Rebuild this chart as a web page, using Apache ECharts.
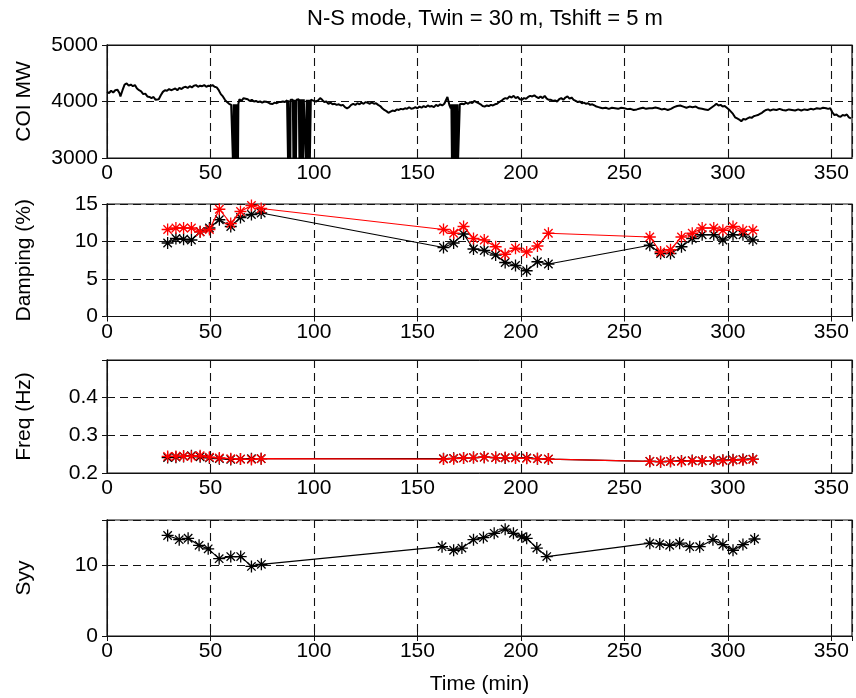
<!DOCTYPE html>
<html>
<head>
<meta charset="utf-8">
<script src="https://cdn.jsdelivr.net/npm/echarts@6/dist/echarts.min.js"></script>
<style>
html,body{margin:0;padding:0;background:#fff;}
#chart{width:856px;height:698px;}
</style>
</head>
<body>
<div id="chart"></div>
<script>
// ---------- DATA ----------
const titleText = 'N-S mode, Twin = 30 m, Tshift = 5 m';
const xTicks = [0, 50, 100, 150, 200, 250, 300, 350];

// COI MW (top panel): time (min) and MW
const coiT = [0,1,2,3,4,5,6,6.5,7.5,8.5,9.5,10.5,11.5,12.5,13.5,14.5,15.5,16.5,17.5,18.5,19.5,20.5,21.5,22.5,23.5,24,25,26,27,28,29,30,31,32,33,34,35,36,37,38,39,40,41,42,43,44,45,46,47,48,49,50,51,52,53,54,55,56,57,58,59,60,60.5,
60.6,60.9,61.2,61.5,61.8,62.1,62.4,62.7,63.0,63.3,63.5,
64,65,66,67,68,69,70,71,72,73,74,75,76,77,78,79,80,81,82,83,84,85,86,87,
87.4,87.5,87.6,88.5,88.6,88.7,89.8,90.1,90.4,90.7,91.0,91.3,91.6,92.7,93.0,93.3,93.6,93.9,94.2,94.5,94.8,95.1,95.3,95.9,96.2,96.5,96.8,97.1,97.4,97.7,98.0,
98.5,99,100,101,102,102.5,103,104,105,106,107,108,109,110,111,112,113,114,115,116,117,118,119,120,121,122,123,124,125,126,127,128,129,130,131,132,133,134,135,136,137,138,139,140,141,142,143,144,145,146,147,148,149,150,151,152,153,154,155,156,157,158,159,160,161,162,163,163.8,164.5,165.5,
166.1,166.4,166.7,167.0,167.3,167.6,167.9,168.2,168.5,168.8,169.1,169.4,169.6,
170.5,171.5,172.5,173.5,174.5,175.5,176.5,177.5,178.5,179.5,180.5,181.5,182.5,183.5,184.5,185.5,186.5,187.5,188.5,189.5,190.5,191.5,192.5,193.5,194.5,195.5,196.5,197.5,198.5,199.5,200.5,201.5,202.5,203.5,204.5,205.5,206.5,207.5,208.5,209.5,210.5,211.5,212.5,213.5,214.5,215.5,216.5,217.5,218.5,219.5,220.5,221.5,222.5,223.5,224.5,225.5,226.5,227.5,228.5,229.5,230.5,231.5,232.5,233.5,234.5,235.5,236.5,237.5,238.5,239.5,
241,242.5,244,245.5,247,248.5,250,251.5,253,254.5,256,257.5,259,260.5,262,263.5,265,266.5,268,269.5,271,272.5,274,275.5,277,278.5,280,281.5,283,284.5,286,287.5,289,290.5,292,293.5,294.5,295.5,296.5,297.5,298.5,299.5,300.5,301.5,302.5,303.5,304.5,305.5,306.5,307.5,308.5,309.5,310.5,311.5,312.5,313.5,314.5,315.5,316.5,317.5,318.5,319.5,320.5,322,323.5,325,326.5,328,329.5,331,332.5,334,335.5,337,338.5,340,341.5,343,344.5,346,347.5,348.5,349.5,350.5,351.5,352.5,353.5,354.5,355.5,356.5,357.5,358.5,359.5];
const coiMW = [4170,4150,4190,4160,4200,4210,4150,4090,4200,4300,4320,4280,4300,4270,4290,4230,4200,4180,4130,4140,4090,4080,4060,4080,4030,4060,4040,4110,4170,4200,4190,4220,4200,4215,4230,4200,4240,4220,4250,4260,4240,4270,4250,4280,4290,4260,4280,4270,4290,4260,4280,4275,4290,4260,4250,4200,4130,4090,4030,3990,3960,3940,3930,
3950,2900,3950,2900,3950,2900,3950,2900,3950,2900,3960,
4040,4010,4060,4050,4040,4010,4030,4000,4010,3990,4000,3980,4000,3995,3980,3960,3955,3980,3970,3990,3990,4000,3990,4020,
4020,2900,4020,4030,2900,4030,4030,2900,4030,2900,4030,2900,4030,4040,2900,4040,2900,4040,2900,4040,2900,4040,4030,4030,2900,4030,2900,4030,2900,4030,2900,4030,
4030,4010,4000,4020,4040,4060,4030,3990,4000,3960,3980,3950,3960,3940,3950,3930,3940,3900,3880,3900,3940,3960,3940,3970,3950,3980,3960,3990,3975,3960,3985,3960,3970,3940,3920,3880,3850,3830,3800,3820,3840,3830,3860,3850,3870,3860,3880,3870,3900,3870,3880,3900,3880,3910,3890,3920,3900,3930,3910,3920,3900,3940,3920,3950,3930,3960,3950,4080,3930,3880,
3950,2900,3950,2900,3950,2900,3950,2900,3950,2900,3950,2900,3950,
3960,3950,3980,3960,3990,3970,4010,3990,3970,3950,3920,3910,3930,3920,3940,3930,3950,3960,3990,4010,4040,4060,4050,4090,4070,4100,4060,4080,4040,4030,4060,4050,4080,4100,4090,4110,4080,4060,4090,4060,4100,4050,4030,4030,4010,4020,4000,4040,4060,4030,4070,4090,4050,4070,4030,4010,3990,4000,3970,3980,3960,3970,3940,3950,3930,3910,3900,3890,3880,3890,
3870,3890,3880,3870,3890,3880,3865,3870,3850,3860,3875,3890,3870,3880,3880,3895,3880,3860,3870,3850,3870,3900,3920,3930,3910,3890,3910,3900,3910,3880,3870,3860,3850,3890,3930,3960,3930,3940,3910,3920,3890,3860,3820,3780,3720,3700,3680,3650,3690,3680,3700,3720,3710,3740,3750,3760,3780,3800,3830,3850,3860,3840,3860,3850,3870,3850,3840,3860,3850,3840,3860,3840,3860,3850,3870,3860,3880,3870,3890,3880,3870,3880,3810,3760,3770,3740,3730,3760,3750,3770,3720,3700,3680];

// Damping (%) : estimation times and values
const dampT = [29.3,33.3,37.0,40.8,45.0,49.5,54.3,59.8,64.5,69.8,74.5,
  162.6,167.5,172.3,177.1,182.3,187.8,192.4,197.4,202.8,208.0,213.3,
  262.3,267.5,272.3,277.6,282.8,287.6,293.2,297.6,302.5,307.3,312.1];
const dampBlack = [9.8,10.4,10.3,10.2,11.3,11.8,12.9,12.0,13.2,13.6,13.8,
  9.2,9.8,11.0,9.0,8.8,8.2,7.2,6.8,6.1,7.3,7.0,
  9.5,8.4,8.4,9.3,10.4,10.9,10.9,10.2,10.9,10.9,10.2];
const dampRed = [11.6,11.8,11.8,11.8,11.3,11.6,14.3,12.4,14.0,14.8,14.4,
  11.6,11.1,12.0,10.4,10.2,9.3,8.3,9.1,8.6,9.4,11.1,
  10.6,8.6,8.9,10.6,11.1,11.8,11.8,11.5,12.0,11.5,11.5];

// Freq (Hz)
const freqBlack = [0.241,0.242,0.244,0.246,0.243,0.240,0.238,0.236,0.237,0.238,0.238,
  0.238,0.239,0.240,0.241,0.242,0.241,0.240,0.241,0.240,0.238,0.237,
  0.231,0.230,0.231,0.232,0.233,0.232,0.233,0.234,0.235,0.236,0.237];
const freqRed = [0.244,0.244,0.245,0.244,0.246,0.242,0.240,0.238,0.237,0.236,0.238,
  0.237,0.238,0.240,0.241,0.242,0.241,0.241,0.240,0.239,0.238,0.237,
  0.231,0.230,0.231,0.231,0.232,0.232,0.233,0.233,0.234,0.235,0.236];

// Syy
const syyT = [29.3,34.9,39.2,44.5,48.9,54.2,59.8,64.6,69.8,74.6,
  161.9,167.5,171.5,177.1,181.9,187.1,192.4,196.4,200.4,202.8,207.7,212.5,
  262.3,267.1,271.9,276.7,281.6,286.4,292.8,297.6,302.5,307.3,312.9];
const syyV = [14.3,13.7,13.9,12.9,12.4,11.0,11.3,11.3,9.9,10.2,
  12.7,12.2,12.5,13.7,14.0,14.6,15.2,14.6,14.1,13.9,12.5,11.3,
  13.2,13.1,12.9,13.2,12.7,12.7,13.7,13.0,12.2,13.0,13.8];

const yLabels = ['COI MW', 'Damping (%)', 'Freq (Hz)', 'Syy'];

// ---------- CHART ----------
const FONT = 'Liberation Sans';
const FS = 21;
const star = 'path://M0,5L10,5M5,0L5,10M1.5,1.5L8.5,8.5M1.5,8.5L8.5,1.5';
const pair = (xs, ys) => xs.map((x, i) => [x, ys[i]]);
const plain = v => String(Math.round(v * 1000) / 1000);

const grids = [
  {left:107, top:45, width:745, height:113},
  {left:107, top:204, width:745, height:112.5},
  {left:107, top:360, width:745, height:113},
  {left:107, top:520, width:745, height:116}
].map(g => Object.assign(g, {show:true, borderColor:'#111', borderWidth:1.2, backgroundColor:'#fff'}));

const dash = {show:true, lineStyle:{color:'#111', type:[8,5], width:1.1}};
const yRanges = [
  {min:3000, max:5000, interval:1000},
  {min:0, max:15, interval:5},
  {min:0.2, max:0.5, interval:0.1, hideMax:true},
  {min:0, max:16.5, interval:10, hideMax:true}
];

const xAxes = [], yAxes = [];
for (let i = 0; i < 4; i++) {
  xAxes.push({
    type:'value', gridIndex:i, min:0, max:360, interval:50, position:'bottom',
    axisLine:{show:true, lineStyle:{color:'#111'}},
    axisTick:{show:true, inside:true, length:5, lineStyle:{color:'#111'}},
    axisLabel:{show:true, showMaxLabel:false, color:'#000', fontFamily:FONT, fontSize:FS, margin:5, formatter:plain},
    splitLine:dash,
    name: i === 3 ? 'Time (min)' : '', nameLocation:'middle', nameGap:38,
    nameTextStyle:{color:'#000', fontFamily:FONT, fontSize:FS}
  });
  xAxes.push({
    type:'value', gridIndex:i, min:0, max:360, interval:50, position:'top',
    axisLine:{show:true, lineStyle:{color:'#111'}},
    axisTick:{show:true, inside:true, length:5, lineStyle:{color:'#111'}},
    axisLabel:{show:false}, splitLine:{show:false}
  });
  const r = yRanges[i];
  yAxes.push({
    type:'value', gridIndex:i, min:r.min, max:r.max, interval:r.interval, position:'left',
    axisLine:{show:true, lineStyle:{color:'#111'}},
    axisTick:{show:true, inside:true, length:5, lineStyle:{color:'#111'}},
    axisLabel:{show:true, showMaxLabel:!r.hideMax, color:'#000', fontFamily:FONT, fontSize:FS, margin:9, formatter:plain},
    splitLine:dash,
    name:yLabels[i], nameLocation:'middle', nameRotate:90, nameGap:72,
    nameTextStyle:{color:'#000', fontFamily:FONT, fontSize:FS}
  });
  yAxes.push({
    type:'value', gridIndex:i, min:r.min, max:r.max, interval:r.interval, position:'right',
    axisLine:{show:true, lineStyle:{color:'#111'}},
    axisTick:{show:true, inside:true, length:5, lineStyle:{color:'#111'}},
    axisLabel:{show:false}, splitLine:{show:false}
  });
}

function markerSeries(gi, data, color, z) {
  return {
    type:'line', xAxisIndex:gi*2, yAxisIndex:gi*2, data:data, z:z,
    symbol:star, symbolSize:12, showSymbol:true, showAllSymbol:true,
    lineStyle:{color:color, width:1.2},
    itemStyle:{color:color, borderColor:color, borderWidth:1.3},
    animation:false, silent:true
  };
}

const series = [
  {type:'line', xAxisIndex:0, yAxisIndex:0, data:pair(coiT, coiMW), showSymbol:false,
   lineStyle:{color:'#000', width:2}, animation:false, silent:true, clip:true},
  markerSeries(1, pair(dampT, dampBlack), '#000', 2),
  markerSeries(1, pair(dampT, dampRed), '#ff0000', 3),
  markerSeries(2, pair(dampT, freqBlack), '#000', 2),
  markerSeries(2, pair(dampT, freqRed), '#ff0000', 3),
  markerSeries(3, pair(syyT, syyV), '#000', 2)
];

const chart = echarts.init(document.getElementById('chart'), null, {renderer:'canvas'});
chart.setOption({
  backgroundColor:'#fff',
  animation:false,
  title:{text:titleText, left:480, top:3, textAlign:'center',
    textStyle:{color:'#000', fontFamily:FONT, fontSize:22, fontWeight:'normal'}},
  grid:grids, xAxis:xAxes, yAxis:yAxes, series:series
});
</script>
</body>
</html>
